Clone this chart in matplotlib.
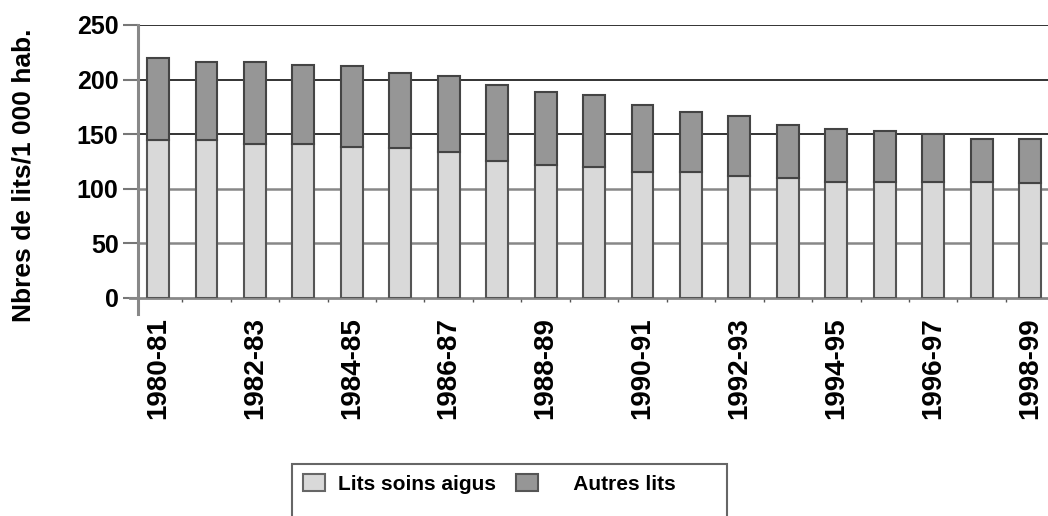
import matplotlib.pyplot as plt
from matplotlib.patches import Rectangle, Patch

years = ['1980-81', '1981-82', '1982-83', '1983-84', '1984-85', '1985-86',
         '1986-87', '1987-88', '1988-89', '1989-90', '1990-91', '1991-92',
         '1992-93', '1993-94', '1994-95', '1995-96', '1996-97', '1997-98',
         '1998-99']
# lits de soins aigus et total
aigus = [145, 145, 141, 141, 138, 137, 134, 125, 122, 120, 115, 115,
         112, 110, 106, 106, 106, 106, 105]
total = [220, 216, 216, 213, 212, 206, 203, 195, 189, 186, 177, 170,
         167, 158, 155, 153, 150, 146, 146]
autres = [t - a for t, a in zip(total, aigus)]

plt.rcParams['font.family'] = ['Liberation Sans', 'DejaVu Sans']
plt.rcParams['font.weight'] = 'bold'

fig = plt.figure(figsize=(10.48, 5.16), dpi=100)
ax = fig.add_axes([0.1317, 0.4225, 0.8683, 0.5291])

x = list(range(len(years)))
ax.bar(x, aigus, width=0.45, color='#d9d9d9', edgecolor='#555555',
       linewidth=1.5, zorder=3, label='Lits soins aigus')
ax.bar(x, autres, bottom=aigus, width=0.45, color='#969696',
       edgecolor='#444444', linewidth=1.5, zorder=3, label='Autres lits')

# lignes horizontales
for v in [150, 200, 250]:
    ax.axhline(v, color='#111111', lw=1.2, zorder=1)
for v in [50, 100]:
    ax.axhline(v, color='#888888', lw=1.8, zorder=1)

ax.set_xlim(-0.413, 18.37)
ax.set_ylim(0, 250)
ax.set_yticks([0, 50, 100, 150, 200, 250])
ax.tick_params(axis='y', length=11, width=1.5, color='#777777',
               labelsize=18, pad=3)
ax.set_xticks(x[::2])
ax.set_xticklabels(years[::2], rotation=90, fontsize=20, fontweight='bold')
ax.set_xticks([i + 0.5 for i in range(len(years) - 1)], minor=True)
ax.tick_params(axis='x', which='major', length=0, pad=14)
ax.tick_params(axis='x', which='minor', length=3, width=1, color='#555555')

for side in ['top', 'right', 'left']:
    ax.spines[side].set_visible(False)
ax.spines['bottom'].set_color('#888888')
ax.spines['bottom'].set_linewidth(2)
# axe vertical prolonge sous le zero
ax.plot([0, 0], [-0.06, 1], transform=ax.transAxes, color='#888888',
        lw=2.2, clip_on=False, zorder=4)
ax.plot([-0.009, 0], [0, 0], transform=ax.transAxes, color='#888888',
        lw=2, clip_on=False, zorder=4)

ax.set_ylabel('Nbres de lits/1 000 hab.', fontsize=19, fontweight='bold')
ax.yaxis.set_label_coords(-0.113, 0.45)

# legende
fig.patches.append(Rectangle((292 / 1048, -0.05), 435 / 1048, 1.05 - 464 / 516,
                             transform=fig.transFigure, fill=False,
                             edgecolor='#666666', lw=1.5))
handles = [Patch(facecolor='#d9d9d9', edgecolor='#666666', lw=1.5),
           Patch(facecolor='#969696', edgecolor='#555555', lw=1.5)]
fig.legend(handles, ['Lits soins aigus', '    Autres lits'], ncol=2,
           loc='upper left', bbox_to_anchor=(284 / 1048, 0.118),
           frameon=False, handlelength=1.05, handleheight=0.9,
           columnspacing=1.0, handletextpad=0.62,
           prop={'weight': 'bold', 'size': 15})

fig.savefig('out.png', dpi=100)
